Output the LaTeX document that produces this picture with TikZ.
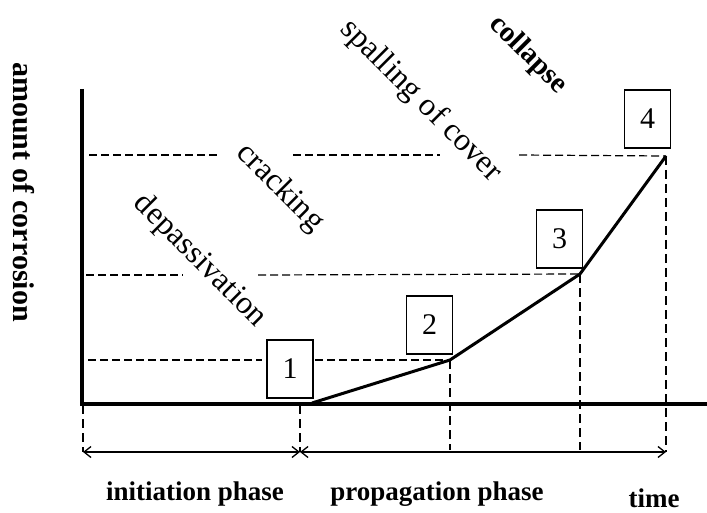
\documentclass[tikz,border=0pt]{standalone}
\usepackage{fontspec}
\setmainfont{Liberation Serif}
\usetikzlibrary{arrows.meta}
\begin{document}
\begin{tikzpicture}[x=1pt,y=-1pt,
  axis/.style={line width=4pt},
  guide/.style={line width=1.2pt, dash pattern=on 8pt off 4pt},
  vguide/.style={line width=1.2pt, dash pattern=on 9pt off 5pt},
  curve/.style={line width=3pt, line join=round},
  numbox/.style={draw, line width=1.1pt, minimum width=46pt, minimum height=58pt, inner sep=0pt, font=\fontsize{30}{32}\selectfont},
  lbl/.style={font=\fontsize{32}{34}\selectfont, inner sep=0pt},
  blbl/.style={font=\fontsize{27}{30}\selectfont\bfseries, inner sep=0pt},
  dim/.style={line width=1.3pt, {Straight Barb[length=7pt,width=11pt]}-{Straight Barb[length=7pt,width=11pt]}},
]
\useasboundingbox (0,0) rectangle (707,513);
% key points
\coordinate (O) at (82,404);
\coordinate (ytop) at (82,89);
\coordinate (xend) at (707,404);
\coordinate (p1) at (312,403);
\coordinate (p2) at (450,360);
\coordinate (p3) at (580,274);
\coordinate (p4) at (666,156);
\coordinate (b0) at (83,452);
\coordinate (b1) at (300,452);
\coordinate (b4) at (666,452);
% horizontal guides
\draw[guide] (89,155) -- (218,155);
\draw[guide] (293,155) -- (440,155);
\draw[guide] (519,155) -- (p4);
\draw[guide] (86,275) -- (183,275);
\draw[guide] (258,275) -- (p3);
\draw[guide] (88,360) -- (262,360);
\draw[guide] (315,360) -- (p2);
% vertical guides
\draw[vguide] (p4) -- (b4);
\draw[vguide] (p3) -- (580,450);
\draw[vguide] (p2) -- (450,450);
\draw[vguide] (300,405) -- (b1);
\draw[vguide] (83,405) -- (b0);
% axes
\draw[axis] (ytop) -- (82,406);
\draw[axis] (80,404) -- (xend);
% curve
\draw[curve] (p1) -- (p2) -- (p3) -- (p4);
% boxes
\node[numbox] (n1) at (290,369) {1};
\node[numbox] (n2) at (429.5,325) {2};
\node[numbox] (n3) at (559.5,239) {3};
\node[numbox] (n4) at (647.5,119) {4};
% dimension arrows
\draw[dim] (b0) -- (b1);
\draw[dim] (b1) -- (b4);
% labels
\node[blbl, font=\fontsize{30}{32}\selectfont\bfseries, rotate=-90] (ylab) at (24,192) {amount of corrosion};
\node[lbl, rotate=-45] (dep) at (200,261) {depassivation};
\node[lbl, rotate=-45] (crk) at (280,188) {cracking};
\node[lbl, rotate=-45] (spl) at (421,101) {spalling of cover};
\node[blbl, font=\fontsize{29}{31}\selectfont\bfseries, rotate=-45] (col) at (528,55) {collapse};
\node[blbl, anchor=base] (ini) at (195,500) {initiation phase};
\node[blbl, anchor=base] (prop) at (437,500) {propagation phase};
\node[blbl, anchor=base] (time) at (654,507) {time};
\end{tikzpicture}
\end{document}
